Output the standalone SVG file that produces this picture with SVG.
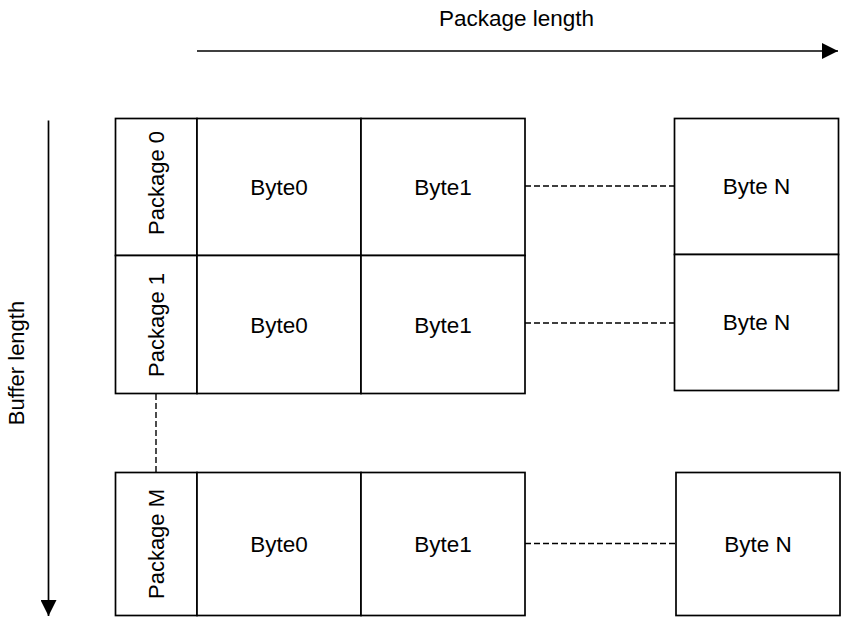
<svg xmlns="http://www.w3.org/2000/svg" width="857" height="630" viewBox="0 0 857 630">
<style>
.box{fill:#fff;stroke:#000;stroke-width:1.7}
.lbl{font-family:"Liberation Sans",Arial,sans-serif;font-size:22.5px;fill:#000;text-anchor:middle}
.vlbl{font-family:"Liberation Sans",Arial,sans-serif;font-size:22px;fill:#000;text-anchor:middle}
.conn{stroke:#000;stroke-width:1.7;fill:none}
.dash{stroke:#000;stroke-width:1.4;stroke-dasharray:6,3;fill:none}
</style>
<defs>
<marker id="ah" markerUnits="userSpaceOnUse" markerWidth="16" markerHeight="16" viewBox="0 0 14 14" refX="14" refY="7" orient="auto">
<path d="M0,0 L14,7 L0,14 Z" fill="#000"/>
</marker>
</defs>
<g id="title-package-length"><text class="lbl" x="516.5" y="26">Package length</text></g>
<g id="title-buffer-length"><text class="vlbl" transform="translate(24,363) rotate(-90)" x="0" y="0">Buffer length</text></g>
<g id="connectors">
<line class="conn" x1="197" y1="51" x2="838" y2="51" marker-end="url(#ah)"/>
<line class="conn" x1="48.5" y1="120.5" x2="48.5" y2="616" marker-end="url(#ah)"/>
<line class="dash" x1="525" y1="186" x2="674" y2="186"/>
<line class="dash" x1="525" y1="323" x2="674" y2="323"/>
<line class="dash" x1="525" y1="543.5" x2="676" y2="543.5"/>
<line class="dash" x1="156" y1="394" x2="156" y2="472.5"/>
</g>
<g id="pkg0">
<rect class="box" x="115.5" y="118.5" width="81.5" height="137"/>
<text class="vlbl" transform="translate(164,183) rotate(-90)">Package 0</text>
</g>
<g id="pkg0-byte0">
<rect class="box" x="197" y="118.5" width="164" height="137"/>
<text class="lbl" x="279" y="195">Byte0</text>
</g>
<g id="pkg0-byte1">
<rect class="box" x="361" y="118.5" width="164" height="137"/>
<text class="lbl" x="443" y="195">Byte1</text>
</g>
<g id="pkg0-byteN">
<rect class="box" x="674.5" y="118.5" width="164" height="136"/>
<text class="lbl" x="756.5" y="194">Byte N</text>
</g>
<g id="pkg1">
<rect class="box" x="115.5" y="255.5" width="81.5" height="138"/>
<text class="vlbl" transform="translate(164,325) rotate(-90)">Package 1</text>
</g>
<g id="pkg1-byte0">
<rect class="box" x="197" y="255.5" width="164" height="138"/>
<text class="lbl" x="279" y="333">Byte0</text>
</g>
<g id="pkg1-byte1">
<rect class="box" x="361" y="255.5" width="164" height="138"/>
<text class="lbl" x="443" y="333">Byte1</text>
</g>
<g id="pkg1-byteN">
<rect class="box" x="674.5" y="254.5" width="164" height="136"/>
<text class="lbl" x="756.5" y="330">Byte N</text>
</g>
<g id="pkgM">
<rect class="box" x="115.5" y="472.5" width="81.5" height="143"/>
<text class="vlbl" transform="translate(164,544) rotate(-90)">Package M</text>
</g>
<g id="pkgM-byte0">
<rect class="box" x="197" y="472.5" width="164" height="143"/>
<text class="lbl" x="279" y="552">Byte0</text>
</g>
<g id="pkgM-byte1">
<rect class="box" x="361" y="472.5" width="164" height="143"/>
<text class="lbl" x="443" y="552">Byte1</text>
</g>
<g id="pkgM-byteN">
<rect class="box" x="676" y="472.5" width="164" height="143"/>
<text class="lbl" x="758" y="552">Byte N</text>
</g>
</svg>
